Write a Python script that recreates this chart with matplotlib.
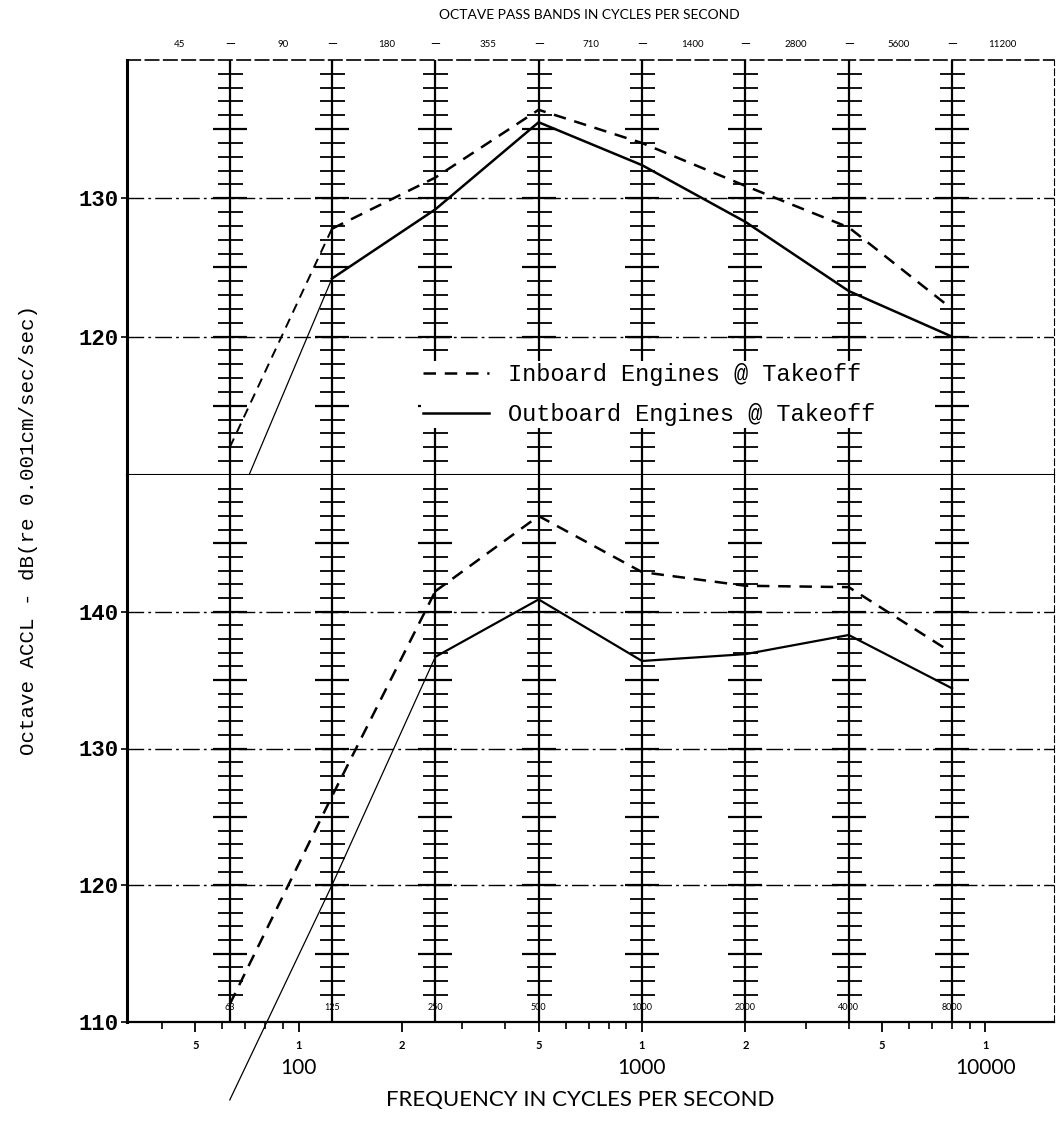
"""
octave band acceleration levels, inboard vs outboard engines at takeoff
"""

import numpy as np
import matplotlib
matplotlib.use("Agg")
import matplotlib.pyplot as plt
from matplotlib.ticker import NullFormatter

# octave band centre frequencies (Hz)
freqs = [63, 125, 250, 500, 1000, 2000, 4000, 8000]
freq_labels = ["63", "125", "250", "500", "1000", "2000", "4000", "8000"]

# octave pass band edges shown along the top
band_edges = [45, 90, 180, 355, 710, 1400, 2800, 5600, 11200]

# upper panel (110-140 dB)
inboard_up = [112.0, 127.8, 131.5, 136.4, 134.0, 130.9, 127.9, 122.0]
outboard_up = [106.7, 124.2, 129.2, 135.5, 132.4, 128.3, 123.3, 120.0]

# lower panel (110-150 dB)
inboard_lo = [111.3, 126.5, 141.5, 147.0, 142.9, 141.9, 141.8, 137.0]
outboard_lo = [104.3, 120.0, 136.7, 140.9, 136.4, 136.9, 138.3, 134.4]

grid_up = [120, 130]
grid_lo = [120, 130, 140]
yticks_up = [120, 130]
yticks_lo = [110, 120, 130, 140]

xmajor = [50, 100, 200, 500, 1000, 2000, 5000, 10000]
xmajor_labels = ["5", "1", "2", "5", "1", "2", "5", "1"]
xminor = [40, 60, 70, 80, 90, 300, 400, 600, 700, 800, 900,
          3000, 4000, 6000, 7000, 8000, 9000]
decades = [100, 1000, 10000]

mono = "Liberation Mono"
sans = ["Lato", "DejaVu Sans"]

W, H = 1056, 1122
fig = plt.figure(figsize=(W / 100, H / 100), dpi=100)
left, right = 127, 1054
top, mid, bot = 60, 475, 1022
ax_up = fig.add_axes([left / W, 1 - mid / H, (right - left) / W, (mid - top) / H])
ax_lo = fig.add_axes([left / W, 1 - bot / H, (right - left) / W, (bot - mid) / H])

for ax, lo, hi in [(ax_up, 110, 140), (ax_lo, 110, 150)]:
    ax.set_xscale("log")
    ax.set_xlim(10 ** 1.5, 10 ** 4.2)
    ax.set_ylim(lo, hi)
    ax.spines["left"].set_linewidth(2.2)
    ax.spines["right"].set_linewidth(0.8)
    ax.spines["right"].set_linestyle((0, (6, 3)))
    # vertical octave lines with 1 dB ladder ticks
    for f in freqs:
        ax.axvline(f, color="k", lw=1.6, zorder=2)
        db = np.arange(lo + 2 if ax is ax_lo else lo + 1, hi)
        short = db[db % 5 != 0]
        long_ = db[db % 5 == 0]
        ax.plot(np.full(len(short), f), short, ls="none", marker="_",
                ms=18, mew=1.3, color="k", zorder=2)
        ax.plot(np.full(len(long_), f), long_, ls="none", marker="_",
                ms=25, mew=1.6, color="k", zorder=2)
    ax.tick_params(axis="y", direction="out", length=4, width=1.2, pad=2,
                   labelsize=16)

ax_up.spines["top"].set_linestyle((0, (8, 3)))
ax_up.spines["top"].set_linewidth(1.2)
ax_up.spines["bottom"].set_linewidth(1.5)
ax_lo.spines["top"].set_visible(False)
ax_lo.spines["bottom"].set_linewidth(1.6)

for g in grid_up:
    ax_up.axhline(g, color="k", lw=1.0, ls=(0, (12, 3, 2, 3)), zorder=1)
for g in grid_lo:
    ax_lo.axhline(g, color="k", lw=1.0, ls=(0, (12, 3, 2, 3)), zorder=1)

ax_up.set_yticks(yticks_up)
ax_up.set_yticklabels([str(v) for v in yticks_up], family=mono, fontsize=16,
                      fontweight="bold")
ax_lo.set_yticks(yticks_lo)
ax_lo.set_yticklabels([str(v) for v in yticks_lo], family=mono, fontsize=16,
                      fontweight="bold")

# data lines: first segment drawn thinner, as in the original
dash = (0, (5, 3.5))
ax_up.plot(freqs[:2], inboard_up[:2], color="k", lw=1.4, ls=dash, zorder=3)
l_in, = ax_up.plot(freqs[1:], inboard_up[1:], color="k", lw=1.8, ls=dash,
                   zorder=3, label="Inboard Engines @ Takeoff")
ax_up.plot(freqs[:2], outboard_up[:2], color="k", lw=0.9, zorder=3)
l_out, = ax_up.plot(freqs[1:], outboard_up[1:], color="k", lw=1.8, zorder=3,
                    label="Outboard Engines @ Takeoff")

ax_lo.plot(freqs[:3], inboard_lo[:3], color="k", lw=1.8, ls=dash, zorder=3,
           clip_on=False)
ax_lo.plot(freqs[2:], inboard_lo[2:], color="k", lw=1.8, ls=dash, zorder=3)
ax_lo.plot(freqs[:3], outboard_lo[:3], color="k", lw=0.9, zorder=3,
           clip_on=False)
ax_lo.plot(freqs[2:], outboard_lo[2:], color="k", lw=1.6, zorder=3)

leg = ax_up.legend(handles=[l_in, l_out], loc="upper left",
                   bbox_to_anchor=(0.317, 0.275), frameon=True,
                   facecolor="white", edgecolor="none", framealpha=1,
                   borderpad=0.1, borderaxespad=0, handlelength=2.8,
                   handletextpad=0.8, labelspacing=0.7,
                   prop={"family": mono, "size": 17})
leg.set_zorder(4)

# top axis: octave pass band edges
ax_up.tick_params(axis="x", which="both", bottom=False, labelbottom=False,
                  top=True, direction="in", length=5)
ax_up.set_xticks(freqs)
ax_up.set_xticklabels([])
ax_up.xaxis.set_minor_formatter(NullFormatter())
ax_up.set_xticks([], minor=True)
xt = ax_up.get_xaxis_transform()
for e in band_edges:
    ax_up.text(e, 1.038, str(e), transform=xt, ha="center", va="center",
               fontsize=7, family=sans, clip_on=False)
for f in freqs:
    ax_up.text(f, 1.038, "\u2014", transform=xt, ha="center", va="center",
               fontsize=9, family=sans, clip_on=False)
fig.text(589 / W, 1 - 15 / H, "OCTAVE PASS BANDS IN CYCLES PER SECOND",
         ha="center", va="center", fontsize=10, family=sans)

# bottom axis
ax_lo.set_xticks(xmajor)
ax_lo.set_xticklabels(xmajor_labels, fontsize=8, family=sans,
                      fontweight="bold")
ax_lo.set_xticks(xminor, minor=True)
ax_lo.xaxis.set_minor_formatter(NullFormatter())
ax_lo.tick_params(axis="x", which="major", direction="out", length=7,
                  width=1.3, pad=6)
ax_lo.tick_params(axis="x", which="minor", direction="out", length=5,
                  width=1.2)
xb = ax_lo.get_xaxis_transform()
for f, s in zip(freqs, freq_labels):
    ax_lo.text(f, 0.026, s, transform=xb, ha="center", va="center",
               fontsize=6.5, family=sans)
for d in decades:
    ax_lo.text(d, -0.084, str(d), transform=xb, ha="center", va="center",
               fontsize=15, family=sans, clip_on=False)
fig.text(580 / W, 1 - 1100 / H, "FREQUENCY IN CYCLES PER SECOND",
         ha="center", va="center", fontsize=16, family=sans)

fig.text(29 / W, 1 - 530 / H, "Octave ACCL - dB(re 0.001cm/sec/sec)",
         rotation=90, ha="center", va="center", fontsize=15, family=mono)

fig.savefig("out.png", dpi=100)
